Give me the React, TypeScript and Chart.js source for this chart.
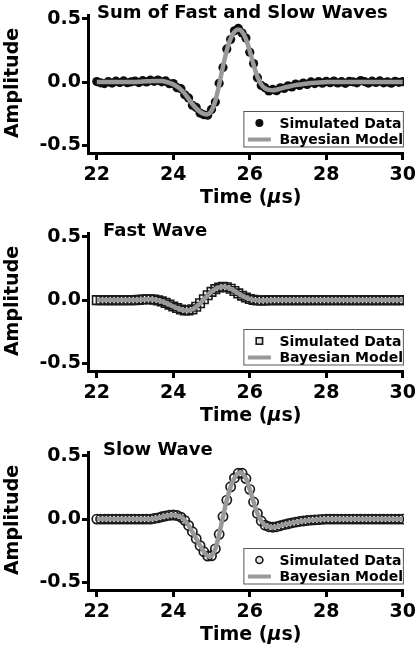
import React, { useEffect, useRef } from 'react';
import { Chart, registerables } from 'chart.js';

Chart.register(...registerables);

const FAMILY = '"DejaVu Sans", "Liberation Sans", sans-serif';

// Time axis (microseconds)
const time = [
  22.0, 22.1, 22.2, 22.3, 22.4, 22.5, 22.6, 22.7, 22.8, 22.9,
  23.0, 23.1, 23.2, 23.3, 23.4, 23.5, 23.6, 23.7, 23.8, 23.9,
  24.0, 24.1, 24.2, 24.3, 24.4, 24.5, 24.6, 24.7, 24.8, 24.9,
  25.0, 25.1, 25.2, 25.3, 25.4, 25.5, 25.6, 25.7, 25.8, 25.9,
  26.0, 26.1, 26.2, 26.3, 26.4, 26.5, 26.6, 26.7, 26.8, 26.9,
  27.0, 27.1, 27.2, 27.3, 27.4, 27.5, 27.6, 27.7, 27.8, 27.9,
  28.0, 28.1, 28.2, 28.3, 28.4, 28.5, 28.6, 28.7, 28.8, 28.9,
  29.0, 29.1, 29.2, 29.3, 29.4, 29.5, 29.6, 29.7, 29.8, 29.9,
  30.0,
];

// Sum of fast and slow waves: noisy simulated data
const sumSimulated = [
  0.004, -0.006, -0.012, 0.003, -0.008, 0.007, -0.003, 0.009, -0.005, 0.002,
  0.008, -0.004, 0.011, 0.001, 0.015, 0.006, 0.016, 0.002, 0.009, -0.013,
  -0.012, -0.044, -0.052, -0.1, -0.125, -0.183, -0.2, -0.245, -0.258, -0.262,
  -0.216, -0.158, -0.01, 0.116, 0.262, 0.336, 0.405, 0.424, 0.388, 0.348,
  0.236, 0.146, 0.035, -0.026, -0.044, -0.07, -0.058, -0.068, -0.045, -0.05,
  -0.03, -0.038, -0.016, -0.026, -0.008, -0.018, 0.001, -0.012, 0.004, -0.009,
  0.006, -0.005, 0.008, -0.007, 0.003, -0.01, 0.005, 0.002, -0.006, 0.012,
  0.004, -0.008, 0.007, -0.003, 0.009, -0.006, 0.002, -0.009, 0.006, -0.002,
  0.003,
];

// Sum of fast and slow waves: Bayesian model
const sumModel = [
  0, 0, 0, 0, 0, 0, 0, 0, 0, 0,
  0, 0.002, 0.005, 0.007, 0.007, 0.009, 0.008, 0.008, 0.003, -0.006,
  -0.018, -0.035, -0.059, -0.091, -0.132, -0.173, -0.208, -0.235, -0.251, -0.254,
  -0.225, -0.148, -0.02, 0.125, 0.251, 0.345, 0.397, 0.415, 0.397, 0.34,
  0.244, 0.137, 0.043, -0.018, -0.05, -0.061, -0.064, -0.06, -0.052, -0.044,
  -0.037, -0.03, -0.024, -0.019, -0.015, -0.011, -0.008, -0.006, -0.004, -0.002,
  0, 0, 0, 0, 0, 0, 0, 0, 0, 0,
  0, 0, 0, 0, 0, 0, 0, 0, 0, 0,
  0,
];

// Fast wave
const fastSimulated = [
  0, 0, 0, 0, 0, 0, 0, 0, 0, 0,
  0, 0.002, 0.005, 0.007, 0.007, 0.004, -0.002, -0.01, -0.022, -0.036,
  -0.05, -0.063, -0.074, -0.081, -0.082, -0.073, -0.053, -0.025, 0.007, 0.038,
  0.065, 0.087, 0.1, 0.105, 0.101, 0.09, 0.072, 0.053, 0.035, 0.02,
  0.009, 0.002, -0.002, -0.003, -0.002, -0.001, 0, 0, 0, 0,
  0, 0, 0, 0, 0, 0, 0, 0, 0, 0,
  0, 0, 0, 0, 0, 0, 0, 0, 0, 0,
  0, 0, 0, 0, 0, 0, 0, 0, 0, 0,
  0,
];
const fastModel = [
  0, 0, 0, 0, 0, 0, 0, 0, 0, 0,
  0, 0.002, 0.005, 0.007, 0.007, 0.004, -0.002, -0.01, -0.022, -0.036,
  -0.05, -0.063, -0.074, -0.081, -0.082, -0.073, -0.053, -0.025, 0.007, 0.038,
  0.065, 0.087, 0.1, 0.105, 0.101, 0.09, 0.072, 0.053, 0.035, 0.02,
  0.009, 0.002, -0.002, -0.003, -0.002, -0.001, 0, 0, 0, 0,
  0, 0, 0, 0, 0, 0, 0, 0, 0, 0,
  0, 0, 0, 0, 0, 0, 0, 0, 0, 0,
  0, 0, 0, 0, 0, 0, 0, 0, 0, 0,
  0,
];

// Slow wave
const slowSimulated = [
  0, 0, 0, 0, 0, 0, 0, 0, 0, 0,
  0, 0, 0, 0, 0, 0.005, 0.01, 0.018, 0.025, 0.03,
  0.032, 0.028, 0.015, -0.01, -0.05, -0.1, -0.155, -0.21, -0.258, -0.292,
  -0.29, -0.235, -0.12, 0.02, 0.15, 0.255, 0.325, 0.362, 0.362, 0.32,
  0.235, 0.135, 0.045, -0.015, -0.048, -0.06, -0.064, -0.06, -0.052, -0.044,
  -0.037, -0.03, -0.024, -0.019, -0.015, -0.011, -0.008, -0.006, -0.004, -0.002,
  0, 0, 0, 0, 0, 0, 0, 0, 0, 0,
  0, 0, 0, 0, 0, 0, 0, 0, 0, 0,
  0,
];
const slowModel = [
  0, 0, 0, 0, 0, 0, 0, 0, 0, 0,
  0, 0, 0, 0, 0, 0.005, 0.01, 0.018, 0.025, 0.03,
  0.032, 0.028, 0.015, -0.01, -0.05, -0.1, -0.155, -0.21, -0.258, -0.292,
  -0.29, -0.235, -0.12, 0.02, 0.15, 0.255, 0.325, 0.362, 0.362, 0.32,
  0.235, 0.135, 0.045, -0.015, -0.048, -0.06, -0.064, -0.06, -0.052, -0.044,
  -0.037, -0.03, -0.024, -0.019, -0.015, -0.011, -0.008, -0.006, -0.004, -0.002,
  0, 0, 0, 0, 0, 0, 0, 0, 0, 0,
  0, 0, 0, 0, 0, 0, 0, 0, 0, 0,
  0,
];

const xTicks = [22, 24, 26, 28, 30];
const yTicks = [-0.5, 0, 0.5];
const seriesLabels = ['Simulated Data', 'Bayesian Model'];
const yAxisTitle = 'Amplitude';
const xAxisTitleParts = ['Time (', 'μ', 's)'];

type Marker = 'dot' | 'square' | 'circle';

const MODEL_COLOR = '#999999';

function markerOptions(m: Marker) {
  if (m === 'dot') {
    return { pointStyle: 'circle', pointRadius: 4.6, pointBackgroundColor: '#0d0d0d', pointBorderColor: '#0d0d0d', pointBorderWidth: 0 };
  }
  if (m === 'square') {
    return { pointStyle: 'rect', pointRadius: 6, pointBackgroundColor: 'rgba(0,0,0,0)', pointBorderColor: '#1a1a1a', pointBorderWidth: 1.6 };
  }
  return { pointStyle: 'circle', pointRadius: 4.6, pointBackgroundColor: 'rgba(0,0,0,0)', pointBorderColor: '#1a1a1a', pointBorderWidth: 1.7 };
}

const panelText = {
  id: 'panelText',
  afterDraw(chart: any, _args: any, opts: any) {
    const { ctx, chartArea } = chart;
    const xs = chart.scales.x;
    ctx.save();
    ctx.fillStyle = '#000';
    // panel title
    ctx.font = `bold 18px ${FAMILY}`;
    ctx.textBaseline = 'alphabetic';
    ctx.textAlign = opts.titleAlign;
    ctx.fillText(opts.title, opts.titleX, 18);

    // y-axis title
    ctx.save();
    ctx.font = `bold 19px ${FAMILY}`;
    ctx.translate(18, (chartArea.top + chartArea.bottom) / 2 - 1);
    ctx.rotate(-Math.PI / 2);
    ctx.textAlign = 'center';
    ctx.textBaseline = 'alphabetic';
    ctx.fillText(yAxisTitle, 0, 0);
    ctx.restore();

    // x-axis title with italic mu
    const fonts = [`bold 19px ${FAMILY}`, `italic bold 19px ${FAMILY}`, `bold 19px ${FAMILY}`];
    let total = 0;
    const widths = xAxisTitleParts.map((s, i) => {
      ctx.font = fonts[i];
      const w = ctx.measureText(s).width;
      total += w;
      return w;
    });
    let cx = xs.getPixelForValue(26) + 1 - total / 2;
    ctx.textAlign = 'left';
    xAxisTitleParts.forEach((s, i) => {
      ctx.font = fonts[i];
      ctx.fillText(s, cx, 203);
      cx += widths[i];
    });

    // legend box
    const right = chartArea.right;
    const bottom = chartArea.bottom - 5.5;
    const left = right - 160.5;
    const top = bottom - 36.5;
    ctx.fillStyle = '#fff';
    ctx.fillRect(left, top, right - left, bottom - top);
    ctx.strokeStyle = '#555';
    ctx.lineWidth = 1;
    ctx.strokeRect(left + 0.5, top + 0.5, right - left - 1, bottom - top - 1);

    const mx = left + 16;
    const y1 = top + 12;
    const y2 = top + 28.5;
    // marker
    const m: Marker = opts.marker;
    ctx.lineWidth = 1.6;
    ctx.strokeStyle = '#1a1a1a';
    ctx.fillStyle = '#0d0d0d';
    if (m === 'dot') {
      ctx.beginPath();
      ctx.arc(mx, y1, 4, 0, Math.PI * 2);
      ctx.fill();
    } else if (m === 'square') {
      ctx.fillStyle = '#e6e6e6';
      ctx.fillRect(mx - 3.2, y1 - 3.2, 6.4, 6.4);
      ctx.strokeRect(mx - 3.2, y1 - 3.2, 6.4, 6.4);
    } else {
      ctx.beginPath();
      ctx.arc(mx, y1, 3.5, 0, Math.PI * 2);
      ctx.fillStyle = '#e6e6e6';
      ctx.fill();
      ctx.stroke();
    }
    // model line sample
    ctx.strokeStyle = MODEL_COLOR;
    ctx.lineWidth = 4;
    ctx.beginPath();
    ctx.moveTo(left + 4.5, y2);
    ctx.lineTo(left + 27.5, y2);
    ctx.stroke();

    ctx.fillStyle = '#000';
    ctx.font = `bold 14px ${FAMILY}`;
    ctx.textAlign = 'left';
    ctx.textBaseline = 'alphabetic';
    ctx.fillText(chart.data.datasets[1].label, left + 36, top + 17.3);
    ctx.fillText(chart.data.datasets[0].label, left + 36, top + 32.8);
    ctx.restore();
  },
};

type PanelProps = {
  top: number;
  height: number;
  title: string;
  titleX: number;
  titleAlign: CanvasTextAlign;
  simulated: number[];
  model: number[];
  marker: Marker;
};

function Panel(p: PanelProps) {
  const ref = useRef<HTMLCanvasElement>(null);
  useEffect(() => {
    const canvas = ref.current;
    if (!canvas) return;
    const tickFont = { family: FAMILY, size: 19, weight: 'bold' as const };
    const axisCommon = {
      grid: {
        display: true,
        drawOnChartArea: false,
        drawTicks: true,
        tickLength: 6,
        tickWidth: 3,
        tickColor: '#000',
        color: '#000',
      },
      border: { display: true, color: '#000', width: 3 },
    };
    const chart = new Chart(canvas, {
      type: 'line',
      data: {
        datasets: [
          {
            label: seriesLabels[1],
            data: time.map((t, i) => ({ x: t, y: p.model[i] })),
            borderColor: MODEL_COLOR,
            borderWidth: 4.5,
            pointRadius: 0,
            tension: 0.3,
            fill: false,
            order: 0,
          },
          {
            label: seriesLabels[0],
            data: time.map((t, i) => ({ x: t, y: p.simulated[i] })),
            showLine: false,
            order: 1,
            ...(markerOptions(p.marker) as any),
          },
        ],
      },
      options: {
        animation: false,
        responsive: false,
        devicePixelRatio: 1,
        events: [],
        layout: { padding: { left: 0, right: 14, top: 15, bottom: p.height - 193 } },
        plugins: {
          legend: { display: false },
          tooltip: { enabled: false },
          title: { display: false },
          panelText: { title: p.title, titleX: p.titleX, titleAlign: p.titleAlign, marker: p.marker },
        } as any,
        scales: {
          x: {
            type: 'linear',
            min: 21.77,
            max: 30.03,
            afterBuildTicks: (s: any) => {
              s.ticks = xTicks.map((v) => ({ value: v }));
            },
            afterFit: (s: any) => {
              s.height = 40;
            },
            ticks: {
              font: tickFont,
              color: '#000',
              padding: 4,
              maxRotation: 0,
              autoSkip: false,
              callback: (v: any) => String(v),
            },
            ...axisCommon,
            grid: { ...axisCommon.grid, tickLength: 7 },
          },
          y: {
            type: 'linear',
            min: -0.56,
            max: 0.53,
            afterBuildTicks: (s: any) => {
              s.ticks = yTicks.map((v) => ({ value: v }));
            },
            afterFit: (s: any) => {
              s.width = 88;
            },
            ticks: {
              font: tickFont,
              color: '#000',
              padding: 1,
              autoSkip: false,
              callback: (v: any) => Number(v).toFixed(1),
            },
            ...axisCommon,
          },
        },
      },
      plugins: [panelText as any],
    });
    return () => chart.destroy();
  }, []);
  return (
    <canvas
      ref={ref}
      width={420}
      height={p.height}
      style={{ position: 'absolute', left: 0, top: p.top, width: 420, height: p.height }}
    />
  );
}

export default function App() {
  return (
    <div style={{ position: 'absolute', left: 0, top: 0, width: 420, height: 645, background: '#fff', overflow: 'hidden' }}>
      <Panel top={0} height={212} title="Sum of Fast and Slow Waves" titleX={97} titleAlign="left"
        simulated={sumSimulated} model={sumModel} marker="dot" />
      <Panel top={218} height={212} title="Fast Wave" titleX={103} titleAlign="left"
        simulated={fastSimulated} model={fastModel} marker="square" />
      <Panel top={437} height={208} title="Slow Wave" titleX={103} titleAlign="left"
        simulated={slowSimulated} model={slowModel} marker="circle" />
    </div>
  );
}
